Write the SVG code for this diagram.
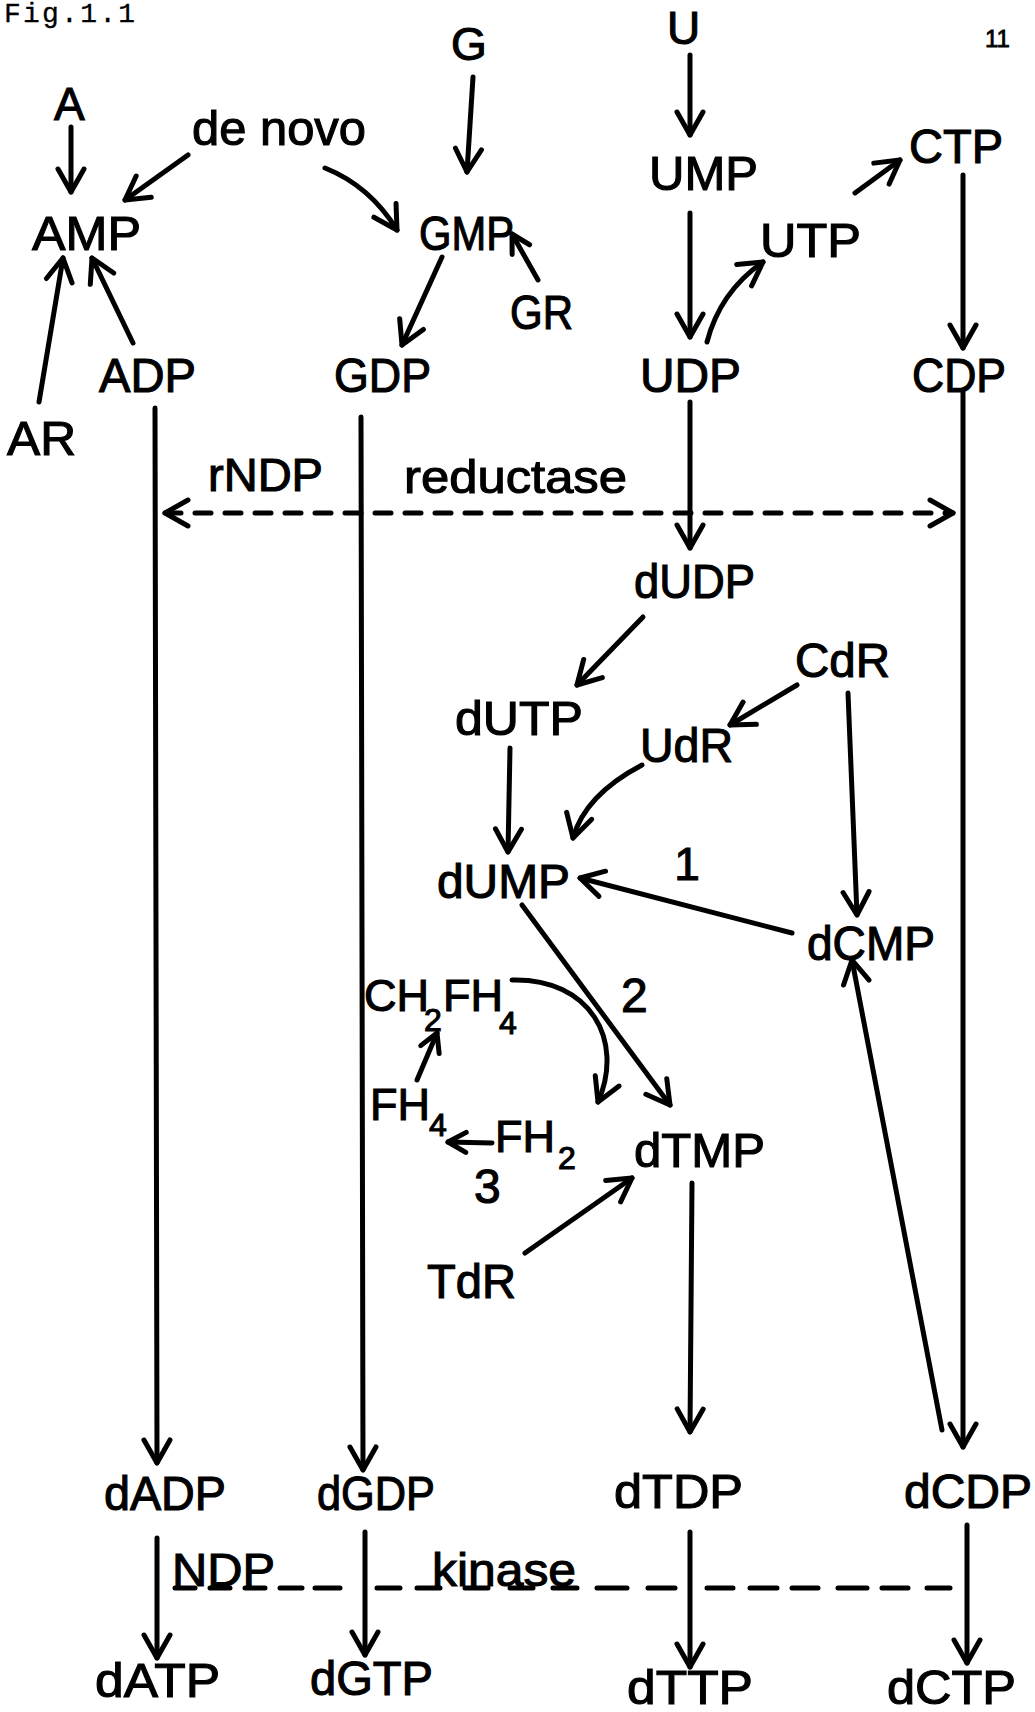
<svg xmlns="http://www.w3.org/2000/svg" width="1035" height="1712" viewBox="0 0 1035 1712">
<style>
.t{font-family:"Liberation Sans",Arial,sans-serif;font-size:48px;fill:#000;stroke:#000;stroke-width:1.1px}
.sub{font-size:32px}
.c{fill:none;stroke:#000;stroke-width:5;stroke-linecap:round;stroke-linejoin:round}
.d{stroke-dasharray:16 14}
.fig{font-family:"Courier New","Liberation Mono",monospace;font-size:28px;fill:#000;stroke:#000;stroke-width:0.3px}
</style>
<defs>
<marker id="ah" viewBox="-30 -20 40 40" markerWidth="40" markerHeight="40" refX="0" refY="0" orient="auto-start-reverse" markerUnits="userSpaceOnUse" overflow="visible">
<path d="M-23,-13 L0,0 L-23,13" fill="none" stroke="#000" stroke-width="5" stroke-linecap="round" stroke-linejoin="round"/>
</marker>
<marker id="as" viewBox="-30 -20 40 40" markerWidth="40" markerHeight="40" refX="0" refY="0" orient="auto" markerUnits="userSpaceOnUse" overflow="visible">
<path d="M-18,-10 L0,0 L-18,10" fill="none" stroke="#000" stroke-width="5" stroke-linecap="round" stroke-linejoin="round"/>
</marker>
</defs>
<rect width="1035" height="1712" fill="#fff"/>
<text class="fig" x="4" y="22" textLength="131" lengthAdjust="spacing">Fig.1.1</text>
<text class="t" x="985" y="47" style="font-size:24px;stroke-width:0.8px">11</text>

<g id="connectors">
<path class="c" marker-end="url(#ah)" d="M71,127 L71,192"/>
<path class="c" marker-end="url(#ah)" d="M188,155 L125,200"/>
<path class="c" marker-end="url(#ah)" d="M325,168 Q370,186 397,230"/>
<path class="c" marker-end="url(#ah)" d="M473,77 L467,172"/>
<path class="c" marker-end="url(#as)" d="M538,280 L512,234"/>
<path class="c" marker-end="url(#ah)" d="M442,257 L402,345"/>
<path class="c" marker-end="url(#ah)" d="M133,343 L92,258"/>
<path class="c" marker-end="url(#ah)" d="M39,402 L63,258"/>
<path class="c" marker-end="url(#ah)" d="M690,55 L690,135"/>
<path class="c" marker-end="url(#ah)" d="M690,213 L690,337"/>
<path class="c" marker-end="url(#ah)" d="M707,342 Q720,292 763,262"/>
<path class="c" marker-end="url(#ah)" d="M855,193 L900,160"/>
<path class="c" marker-end="url(#ah)" d="M963,175 L963,348"/>
<path class="c" marker-end="url(#ah)" d="M155,408 L157,1463"/>
<path class="c" marker-end="url(#ah)" d="M361,417 L363,1470"/>
<path class="c" marker-end="url(#ah)" d="M690,402 L690,548"/>
<path class="c" marker-end="url(#ah)" d="M963,392 L963,1447"/>
<path class="c d" marker-start="url(#ah)" marker-end="url(#ah)" d="M165,513 L953,513"/>
<path class="c" marker-end="url(#ah)" d="M643,617 L577,685"/>
<path class="c" marker-end="url(#ah)" d="M797,685 L730,725"/>
<path class="c" marker-end="url(#ah)" d="M642,765 Q585,795 573,838"/>
<path class="c" marker-end="url(#ah)" d="M510,748 L508,852"/>
<path class="c" marker-end="url(#ah)" d="M792,933 L580,878"/>
<path class="c" marker-end="url(#ah)" d="M848,693 L857,915"/>
<path class="c" marker-end="url(#ah)" d="M942,1430 L852,960"/>
<path class="c" marker-end="url(#ah)" d="M522,905 L670,1105"/>
<path class="c" marker-end="url(#ah)" d="M512,980 C590,978 625,1040 598,1102"/>
<path class="c" marker-end="url(#as)" d="M417,1080 L437,1033"/>
<path class="c" marker-end="url(#as)" d="M492,1143 L448,1142"/>
<path class="c" marker-end="url(#ah)" d="M525,1253 L632,1178"/>
<path class="c" marker-end="url(#ah)" d="M692,1183 L690,1432"/>
<path class="c" marker-end="url(#ah)" d="M157,1538 L157,1658"/>
<path class="c" marker-end="url(#ah)" d="M365,1532 L365,1655"/>
<path class="c" marker-end="url(#ah)" d="M690,1532 L690,1667"/>
<path class="c" marker-end="url(#ah)" d="M967,1525 L967,1663"/>
<path class="c" d="M175,1588 L195,1588 M210,1588 L230,1588 M245,1588 L265,1588 M280,1588 L302,1588 M315,1588 L340,1588 M377,1588 L400,1588 M417,1588 L440,1588 M465,1588 L488,1588 M510,1588 L533,1588 M553,1588 L577,1588 M597,1588 L627,1588 M648,1588 L675,1588 M707,1588 L733,1588 M750,1588 L777,1588 M792,1588 L818,1588 M838,1588 L867,1588 M882,1588 L908,1588 M927,1588 L950,1588"/>
</g>

<g id="n-A"><text class="t" x="54" y="120" style="font-size:46px">A</text></g>
<g id="n-G"><text class="t" x="451" y="60" style="font-size:46px">G</text></g>
<g id="n-U"><text class="t" x="667" y="44" style="font-size:46px">U</text></g>
<g id="n-denovo"><text class="t" x="192" y="145" textLength="174" lengthAdjust="spacingAndGlyphs">de novo</text></g>
<g id="n-AMP"><text class="t" x="32" y="250" textLength="109" lengthAdjust="spacingAndGlyphs">AMP</text></g>
<g id="n-GMP"><text class="t" x="419" y="250" textLength="95" lengthAdjust="spacingAndGlyphs">GMP</text></g>
<g id="n-GR"><text class="t" x="510" y="329" textLength="63" lengthAdjust="spacingAndGlyphs">GR</text></g>
<g id="n-UMP"><text class="t" x="649" y="190" textLength="109" lengthAdjust="spacingAndGlyphs">UMP</text></g>
<g id="n-UTP"><text class="t" x="760" y="257" textLength="101" lengthAdjust="spacingAndGlyphs">UTP</text></g>
<g id="n-CTP"><text class="t" x="909" y="163" textLength="94" lengthAdjust="spacingAndGlyphs">CTP</text></g>
<g id="n-ADP"><text class="t" x="99" y="392" textLength="97" lengthAdjust="spacingAndGlyphs">ADP</text></g>
<g id="n-GDP"><text class="t" x="334" y="392" textLength="97" lengthAdjust="spacingAndGlyphs">GDP</text></g>
<g id="n-UDP"><text class="t" x="640" y="392" textLength="101" lengthAdjust="spacingAndGlyphs">UDP</text></g>
<g id="n-CDP"><text class="t" x="912" y="392" textLength="94" lengthAdjust="spacingAndGlyphs">CDP</text></g>
<g id="n-AR"><text class="t" x="7" y="455" textLength="69" lengthAdjust="spacingAndGlyphs">AR</text></g>
<g id="n-rNDP"><text class="t" x="208" y="491" textLength="115" lengthAdjust="spacingAndGlyphs" style="font-size:46px">rNDP</text></g>
<g id="n-reductase"><text class="t" x="404" y="493" textLength="223" lengthAdjust="spacingAndGlyphs" style="font-size:46px">reductase</text></g>
<g id="n-dUDP"><text class="t" x="634" y="598" textLength="121" lengthAdjust="spacingAndGlyphs">dUDP</text></g>
<g id="n-dUTP"><text class="t" x="455" y="735" textLength="128" lengthAdjust="spacingAndGlyphs">dUTP</text></g>
<g id="n-CdR"><text class="t" x="795" y="677" textLength="95" lengthAdjust="spacingAndGlyphs">CdR</text></g>
<g id="n-UdR"><text class="t" x="640" y="762" textLength="93" lengthAdjust="spacingAndGlyphs">UdR</text></g>
<g id="n-dUMP"><text class="t" x="437" y="898" textLength="133" lengthAdjust="spacingAndGlyphs">dUMP</text></g>
<g id="n-1"><text class="t" x="687" y="880" text-anchor="middle" style="font-size:46px">1</text></g>
<g id="n-dCMP"><text class="t" x="807" y="960" textLength="128" lengthAdjust="spacingAndGlyphs">dCMP</text></g>
<g id="n-CH2FH4"><text class="t" style="font-size:45px"><tspan x="364" y="1011">CH</tspan><tspan class="sub" x="424" y="1031">2</tspan><tspan x="443" y="1011">FH</tspan><tspan class="sub" x="499" y="1034">4</tspan></text></g>
<g id="n-2"><text class="t" x="621" y="1012">2</text></g>
<g id="n-FH4"><text class="t" style="font-size:45px"><tspan x="370" y="1120">FH</tspan><tspan class="sub" x="429" y="1136">4</tspan></text></g>
<g id="n-FH2"><text class="t" style="font-size:45px"><tspan x="495" y="1152">FH</tspan><tspan class="sub" x="558" y="1169">2</tspan></text></g>
<g id="n-3"><text class="t" x="474" y="1203">3</text></g>
<g id="n-dTMP"><text class="t" x="634" y="1167" textLength="131" lengthAdjust="spacingAndGlyphs">dTMP</text></g>
<g id="n-TdR"><text class="t" x="427" y="1298" textLength="89" lengthAdjust="spacingAndGlyphs">TdR</text></g>
<g id="n-dADP"><text class="t" x="104" y="1510" textLength="122" lengthAdjust="spacingAndGlyphs">dADP</text></g>
<g id="n-dGDP"><text class="t" x="317" y="1510" textLength="118" lengthAdjust="spacingAndGlyphs">dGDP</text></g>
<g id="n-dTDP"><text class="t" x="614" y="1508" textLength="129" lengthAdjust="spacingAndGlyphs">dTDP</text></g>
<g id="n-dCDP"><text class="t" x="904" y="1508" textLength="128" lengthAdjust="spacingAndGlyphs">dCDP</text></g>
<g id="n-NDP"><text class="t" x="172" y="1586" textLength="103" lengthAdjust="spacingAndGlyphs" style="font-size:46px">NDP</text></g>
<g id="n-kinase"><text class="t" x="432" y="1586" textLength="144" lengthAdjust="spacingAndGlyphs" style="font-size:46px">kinase</text></g>
<g id="n-dATP"><text class="t" x="95" y="1697" textLength="125" lengthAdjust="spacingAndGlyphs">dATP</text></g>
<g id="n-dGTP"><text class="t" x="310" y="1695" textLength="123" lengthAdjust="spacingAndGlyphs">dGTP</text></g>
<g id="n-dTTP"><text class="t" x="627" y="1704" textLength="126" lengthAdjust="spacingAndGlyphs">dTTP</text></g>
<g id="n-dCTP"><text class="t" x="887" y="1704" textLength="129" lengthAdjust="spacingAndGlyphs">dCTP</text></g>
</svg>
